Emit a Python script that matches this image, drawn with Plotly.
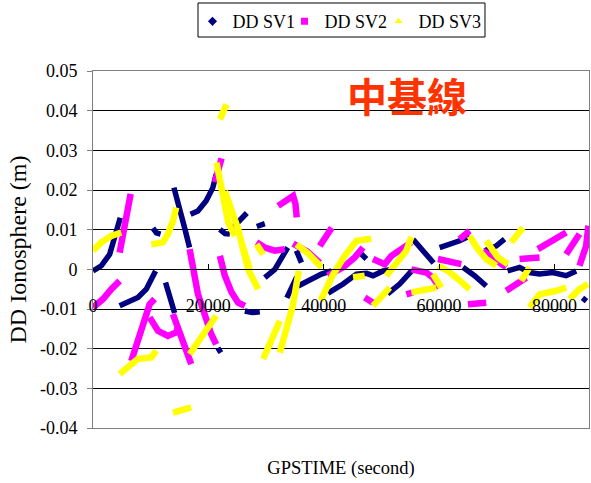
import plotly.graph_objects as go

# Double-differenced ionospheric delay per satellite pair (GPS seconds vs metres).
# Each pass is a separate run; None breaks the line between passes.
sv1_time = [0, 1440, 2890, 4040, 4730, None,
            4620, 6060, 7790, 9240, 10100, 10850, None,
            10390, 11000, 11720, None,
            14030, 15010, 15880, 16740, None,
            12580, 13400, 14150, None,
            16910, 18190, 19630, 20780, 21360, None,
            21650, 22170, None,
            22000, 22900, 23730, None,
            24250, 25500, 26670, None,
            26330, 27600, 28920, None,
            28400, 29790, None,
            29790, 31520, 33770, None,
            35270, 36140, None,
            33600, 35330, None,
            35560, 37860, 39610, 41340, None,
            40760, 43360, 45670, 47400, 48550, 50290, 52020, None,
            45960, 47400, None,
            51090, 53170, 55250, None,
            55480, 57000, 58370, 59060, None,
            60100, 61830, 63560, 65300, None,
            64140, 66160, 68180, None,
            67890, 69920, 71360, None,
            71880, 73960, 75690, 77420, 79720, 82040, 83780, None,
            84870, 85560, None,
            85560, 85900]
sv1_dd = [-0.0004, 0.0009, 0.0038, 0.0089, 0.0130, None,
          -0.0092, -0.0084, -0.0071, -0.0050, -0.0029, -0.0004, None,
          0.0104, 0.0092, 0.0089, None,
          0.0206, 0.0156, 0.0105, 0.0055, None,
          -0.0033, -0.0072, -0.0110, None,
          0.0139, 0.0147, 0.0173, 0.0206, 0.0240, None,
          -0.0198, -0.0210, None,
          0.0101, 0.0090, 0.0089, None,
          0.0105, 0.0125, 0.0142, None,
          -0.0105, -0.0109, -0.0107, None,
          0.0108, 0.0115, None,
          -0.0021, 0.0000, 0.0055, None,
          0.0047, 0.0017, None,
          -0.0072, -0.0019, None,
          -0.0042, -0.0025, -0.0012, -0.0004, None,
          -0.0060, -0.0037, -0.0012, -0.0010, -0.0016, -0.0004, 0.0000, None,
          0.0047, 0.0026, None,
          -0.0062, -0.0037, -0.0004, None,
          0.0076, 0.0052, 0.0027, 0.0016, None,
          0.0055, 0.0063, 0.0072, 0.0084, None,
          0.0005, -0.0016, -0.0042, None,
          0.0047, 0.0059, 0.0076, None,
          -0.0004, 0.0005, -0.0008, -0.0012, -0.0008, -0.0016, -0.0004, None,
          -0.0072, -0.0080, None,
          0.0060, 0.0077]

sv2_time = [0, 1730, 3170, 4620, None,
            4620, 5490, 6060, 6530, None,
            6640, 8370, 9820, 10680, None,
            9820, 11260, 12990, 14430, 14720, None,
            13860, 15300, 16450, 17030, None,
            16750, 18190, 20490, 21360, None,
            21130, 22290, None,
            22000, 22860, 24020, 25170, 26330, None,
            28350, 29790, 31520, 33250, None,
            32100, 33250, 34700, 35100, 35330, None,
            34700, 37240, 39320, None,
            39320, 41390, None,
            40700, 43360, 45380, 46820, None,
            48550, 50570, 51730, 54330, 55190, None,
            47110, 48550, None,
            54330, 55480, None,
            55190, 57790, 58950, 60100, None,
            59810, 61830, 63850, None,
            63560, 65300, None,
            65010, 68180, None,
            67600, 69920, 71650, None,
            71650, 73960, 75110, None,
            73960, 77420, None,
            77130, 80300, 82040, None,
            82040, 83480, 84350, None,
            84350, 85500, 85900]
sv2_dd = [-0.0096, -0.0075, -0.0050, -0.0029, None,
          0.0042, 0.0105, 0.0147, 0.0190, None,
          -0.0231, -0.0147, -0.0088, -0.0075, None,
          -0.0121, -0.0155, -0.0168, -0.0159, -0.0147, None,
          -0.0113, -0.0172, -0.0222, -0.0239, None,
          0.0051, -0.0062, -0.0163, -0.0189, None,
          0.0220, 0.0280, None,
          0.0034, -0.0016, -0.0058, -0.0084, -0.0092, None,
          0.0068, 0.0055, 0.0047, 0.0051, None,
          0.0160, 0.0171, 0.0185, 0.0165, 0.0131, None,
          0.0065, 0.0044, 0.0016, None,
          0.0059, 0.0105, None,
          -0.0016, 0.0005, 0.0030, 0.0055, None,
          0.0026, 0.0013, 0.0034, 0.0059, 0.0068, None,
          -0.0071, -0.0084, None,
          -0.0063, -0.0058, None,
          0.0000, -0.0008, -0.0021, -0.0046, None,
          0.0026, 0.0021, 0.0013, None,
          0.0076, 0.0097, None,
          -0.0088, -0.0084, None,
          0.0047, 0.0021, 0.0005, None,
          -0.0054, -0.0033, -0.0021, None,
          0.0026, 0.0030, None,
          0.0051, 0.0076, 0.0093, None,
          0.0038, 0.0068, 0.0089, None,
          0.0009, 0.0059, 0.0110]

sv3_time = [0, 1440, 3170, 4900, None,
            10100, 12120, 12990, 13860, 14430, None,
            4620, 6640, 7790, 10100, 10970, None,
            13860, 17030, None,
            16750, 21360, None,
            22000, 23150, None,
            21420, 22290, 23440, 24590, None,
            22860, 25170, 26900, 28630, None,
            25750, 27190, None,
            28350, 29500, None,
            29500, 32390, None,
            32390, 34640, 35680, None,
            35270, 37300, 39660, None,
            39470, 41520, 43650, 45670, 48260, None,
            45090, 47110, None,
            48550, 50860, 51440, None,
            50860, 52600, 54330, 55190, None,
            55190, 58370, 59530, None,
            58950, 60390, None,
            59810, 61540, 62990, 64720, 65300, None,
            65300, 66730, 68180, 69920, None,
            68180, 70200, 71940, None,
            72520, 74530, None,
            74240, 75690, None,
            75690, 77420, 80300, 82040, None,
            82620, 84350, 85790]
sv3_dd = [0.0047, 0.0068, 0.0084, 0.0093, None,
          0.0063, 0.0068, 0.0089, 0.0122, 0.0156, None,
          -0.0264, -0.0239, -0.0226, -0.0222, -0.0205, None,
          -0.0361, -0.0348, None,
          -0.0214, -0.0117, None,
          0.0378, 0.0416, None,
          0.0269, 0.0194, 0.0118, 0.0084, None,
          0.0197, 0.0101, 0.0000, -0.0050, None,
          0.0068, 0.0000, None,
          0.0063, 0.0038, None,
          -0.0226, -0.0130, None,
          -0.0210, -0.0092, -0.0004, None,
          0.0063, 0.0040, 0.0005, None,
          -0.0079, -0.0016, 0.0034, 0.0072, 0.0077, None,
          -0.0020, -0.0016, None,
          -0.0092, -0.0054, -0.0046, None,
          -0.0016, 0.0013, 0.0047, 0.0082, None,
          -0.0058, -0.0050, -0.0046, None,
          -0.0012, -0.0046, None,
          0.0009, -0.0004, -0.0021, -0.0042, -0.0050, None,
          0.0084, 0.0051, 0.0026, 0.0009, None,
          0.0072, 0.0030, 0.0013, None,
          0.0068, 0.0105, None,
          -0.0029, 0.0005, None,
          -0.0096, -0.0063, -0.0054, -0.0046, None,
          -0.0075, -0.0050, -0.0037]

series_names = ["DD SV1", "DD SV2", "DD SV3"]
series_colors = ["#000080", "#FF00FF", "#FFFF00"]
series_symbols = ["diamond", "square", "triangle-up"]
series_widths = [5.5, 6.5, 6.5]

x_tick_vals = [0, 20000, 40000, 60000, 80000]
x_tick_text = ["0", "20000", "40000", "60000", "80000"]
y_tick_vals = [0.05, 0.04, 0.03, 0.02, 0.01, 0, -0.01, -0.02, -0.03, -0.04]
y_tick_text = ["0.05", "0.04", "0.03", "0.02", "0.01", "0", "-0.01", "-0.02", "-0.03", "-0.04"]
x_range = [0, 86000]
y_range = [-0.04, 0.05]

SERIF = "Liberation Serif"

fig = go.Figure()
data = [(sv1_time, sv1_dd), (sv2_time, sv2_dd), (sv3_time, sv3_dd)]
for (xs, ys), name, color, width in zip(data, series_names, series_colors, series_widths):
    fig.add_trace(go.Scatter(x=xs, y=ys, mode="lines", name=name, showlegend=False,
                             line=dict(color=color, width=width), connectgaps=False,
                             hoverinfo="skip"))

# one single-entry legend per series, laid out in a row inside a framed box
legend_ids = ["legend", "legend2", "legend3"]
legend_x = [0.2006, 0.3861, 0.5756]
for name, color, symbol, lid in zip(series_names, series_colors, series_symbols, legend_ids):
    fig.add_trace(go.Scatter(x=[None], y=[None], mode="markers", name=name, legend=lid,
                             marker=dict(color=color, symbol=symbol, size=7)))

# empty trace that puts the crossing time axis (at zero) on the figure
fig.add_trace(go.Scatter(x=[None], y=[None], xaxis="x2", yaxis="y",
                         showlegend=False, hoverinfo="skip"))

zero_pos = (0 - y_range[0]) / (y_range[1] - y_range[0])

legend_style = dict(orientation="h", y=1.19, xanchor="left", yanchor="top",
                    borderwidth=0, bgcolor="rgba(0,0,0,0)",
                    font=dict(family=SERIF, size=18), itemwidth=30)

fig.update_layout(
    width=591, height=483,
    margin=dict(l=93, r=2, t=71, b=55),
    paper_bgcolor="white", plot_bgcolor="white",
    font=dict(family=SERIF, size=18, color="black"),
    xaxis=dict(range=x_range, showgrid=False, zeroline=False,
               showline=True, linecolor="#808080", linewidth=1, mirror=True,
               ticks="", showticklabels=False,
               title=dict(text="GPSTIME (second)", standoff=33,
                          font=dict(family=SERIF, size=18.5))),
    xaxis2=dict(range=x_range, overlaying="x", anchor="free", position=zero_pos,
                side="bottom", showgrid=False, zeroline=False,
                showline=True, linecolor="black", linewidth=1,
                ticks="inside", ticklen=5, tickcolor="black",
                tickvals=x_tick_vals, ticktext=x_tick_text,
                ticklabelstandoff=20,
                tickfont=dict(family=SERIF, size=18)),
    yaxis=dict(range=y_range, tickvals=y_tick_vals, ticktext=y_tick_text,
               showgrid=True, gridcolor="black", gridwidth=1, zeroline=False,
               showline=True, linecolor="#808080", linewidth=1, mirror=True,
               ticks="outside", ticklen=5, tickcolor="#808080",
               ticklabelstandoff=6,
               tickfont=dict(family=SERIF, size=18),
               title=dict(text="DD Ionosphere (m)", standoff=6,
                          font=dict(family=SERIF, size=24))),
    legend=dict(legend_style, x=legend_x[0]),
    legend2=dict(legend_style, x=legend_x[1]),
    legend3=dict(legend_style, x=legend_x[2]),
    shapes=[dict(type="rect", xref="paper", yref="paper",
                 x0=0.2117, x1=0.7903, y0=1.0952, y1=1.1905,
                 line=dict(color="black", width=1), fillcolor="white", layer="below")],
    annotations=[dict(text="<b>中基線</b>", x=0.633, y=0.933, xref="paper", yref="paper",
                      showarrow=False, xanchor="center", yanchor="middle",
                      font=dict(family="Noto Sans CJK TC", size=40, color="#FF3300"))],
)

fig.write_html("out.html")
